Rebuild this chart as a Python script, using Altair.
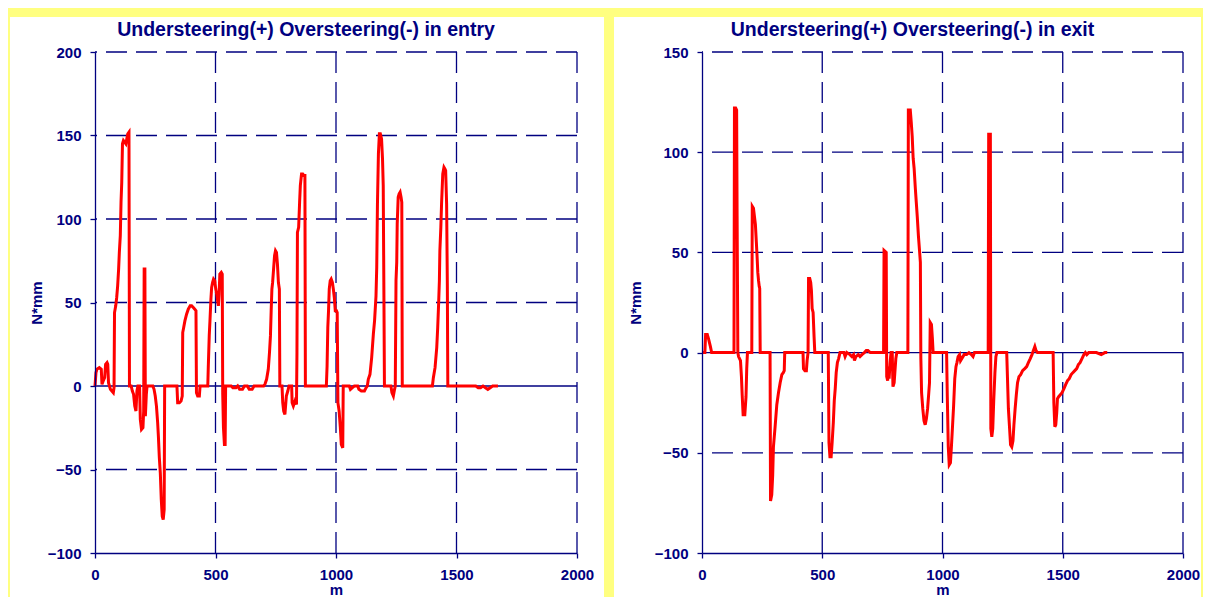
import altair as alt
import pandas as pd

# ---------------- data ----------------
entry_x = [0, 4, 8, 18, 26, 29, 34, 40, 44, 50, 53, 56, 60, 64, 70, 76, 79, 81, 86, 90,
           94, 98, 101, 105, 108, 111, 114, 118, 123, 128, 132, 136, 141, 143, 150, 155, 160, 165, 170, 174,
           178, 185, 188, 193, 199, 202, 204, 207, 209, 213, 216, 240, 245, 250, 255, 260, 263, 267, 271, 275,
           279, 283, 287, 289, 340, 343, 350, 357, 362, 364, 368, 373, 380, 387, 395, 401, 408, 414, 419, 421,
           426, 433, 436, 468, 470, 474, 477, 481, 484, 488, 492, 497, 501, 505, 509, 512, 515, 518, 524, 528,
           530, 533, 537, 540, 542, 565, 572, 585, 592, 600, 612, 620, 632, 640, 652, 660, 700, 705, 712, 719,
           724, 728, 731, 734, 737, 741, 745, 749, 753, 757, 761, 765, 767, 776, 779, 783, 788, 794, 800, 805,
           816, 818, 823, 830, 836, 838, 840, 845, 849, 852, 857, 862, 867, 871, 873, 960, 963, 966, 969, 972,
           976, 980, 985, 989, 993, 997, 1002, 1005, 1008, 1013, 1018, 1022, 1028, 1030, 1055, 1060, 1068, 1076, 1090, 1095,
           1105, 1118, 1125, 1130, 1134, 1141, 1148, 1155, 1160, 1166, 1169, 1172, 1176, 1180, 1184, 1189, 1193, 1196, 1199, 1201,
           1228, 1232, 1238, 1243, 1246, 1249, 1252, 1254, 1258, 1262, 1266, 1270, 1273, 1275, 1400, 1404, 1411, 1418, 1422, 1426,
           1429, 1431, 1435, 1438, 1443, 1448, 1452, 1455, 1459, 1462, 1464, 1580, 1590, 1600, 1610, 1620, 1630, 1640, 1650, 1660,
           1672]
entry_y = [0, 8, 10, 11, 10, 1, 3, 5, 13, 14, 13, 2, 0, -2, -3, -4, -1, 44, 48, 53,
           60, 70, 80, 90, 110, 122, 145, 147, 146, 145, 148, 151, 152, 0, 0, -3, -5, -12, -15, -3,
           0, 0, -20, -26, -25, -15, 70, 70, -18, -5, 0, 0, -2, -6, -12, -22, -30, -43, -52, -68,
           -78, -80, -74, 0, 0, -10, -10, -9, -6, 32, 35, 39, 43, 46, 48, 48, 47, 46, 45, -4,
           -6, -6, 0, 0, 11, 30, 39, 52, 59, 62, 64, 63, 58, 55, 51, 48, 55, 67, 68, 67,
           -5, -25, -35, -35, 0, 0, -1, -1, 0, -2, -2, 0, 0, -2, -2, 0, 0, 1, 4, 10,
           20, 30, 45, 58, 62, 70, 78, 81, 80, 73, 62, 58, 0, 0, -10, -15, -17, -6, -3, 0,
           0, -10, -12, -9, -11, 20, 92, 95, 110, 120, 127, 127, 126, 126, 0, 0, 12, 35, 45, 58,
           63, 64, 62, 58, 53, 45, 45, 44, -10, -15, -25, -35, -37, 0, 0, -2, -1, 0, 0, -2,
           -3, -3, -1, 0, 4, 7, 17, 31, 39, 54, 71, 109, 139, 151, 151, 148, 136, 120, 50, 0,
           0, -4, -6, -2, 0, 63, 74, 97, 113, 115, 116, 113, 110, 0, 0, 5, 11, 23, 35, 50,
           63, 81, 95, 109, 127, 131, 130, 129, 109, 60, 0, 0, -1, -1, 0, -1, -2, -1, 0, 0,
           0]

exit_x = [0, 12, 15, 22, 27, 31, 35, 40, 133, 135, 140, 144, 146, 149, 152, 156, 160, 164, 167, 171,
          178, 183, 186, 189, 207, 209, 214, 218, 222, 226, 229, 232, 235, 238, 240, 242, 283, 285, 290, 294,
          297, 304, 311, 318, 325, 332, 338, 342, 344, 420, 422, 428, 434, 437, 441, 443, 448, 452, 455, 458,
          462, 466, 469, 525, 528, 532, 537, 541, 546, 550, 554, 558, 563, 568, 574, 590, 595, 602, 615, 623,
          630, 634, 640, 650, 657, 665, 675, 683, 690, 700, 755, 757, 766, 768, 772, 775, 778, 782, 786, 791,
          794, 799, 803, 806, 810, 856, 858, 866, 870, 874, 878, 882, 887, 891, 895, 900, 905, 908, 910, 913,
          918, 923, 928, 933, 938, 943, 946, 949, 954, 958, 961, 1017, 1020, 1024, 1028, 1033, 1037, 1042, 1046, 1051,
          1056, 1060, 1065, 1071, 1075, 1080, 1085, 1090, 1100, 1110, 1120, 1127, 1133, 1190, 1192, 1199, 1201, 1205, 1209, 1213,
          1218, 1222, 1226, 1267, 1270, 1274, 1279, 1283, 1288, 1293, 1297, 1302, 1307, 1312, 1318, 1325, 1333, 1342, 1350, 1357,
          1365, 1372, 1378, 1384, 1389, 1395, 1460, 1463, 1467, 1471, 1475, 1478, 1483, 1490, 1497, 1505, 1512, 1520, 1527, 1535,
          1542, 1550, 1558, 1565, 1572, 1580, 1588, 1594, 1600, 1608, 1620, 1640, 1660, 1675, 1685]
exit_y = [0, 0, 9, 9, 7, 5, 3, 0, 0, 122, 122, 121, 68, 0, -2, -3, -4, -12, -21, -31,
          -31, -22, -8, 0, 0, 73, 72, 68, 64, 55, 48, 40, 36, 33, 32, 0, 0, -74, -71, -61,
          -47, -37, -26, -20, -15, -11, -10, -9, 0, 0, -8, -9, -9, -4, 0, 37, 37, 35, 31, 22,
          20, 8, 0, 0, -45, -52, -52, -45, -35, -24, -18, -10, -5, -3, 0, 0, -2, 0, -1, -2,
          -1, -4, -2, -1, -2, -1, 0, 1, 1, 0, 0, 51, 50, -12, -14, -7, -13, -5, 0, 0,
          -17, -15, -8, -3, 0, 0, 121, 121, 115, 108, 97, 92, 82, 75, 68, 58, 50, 45, -3, -20,
          -28, -34, -36, -33, -28, -20, -15, 15, 14, 7, 0, 0, -22, -47, -56, -55, -47, -36, -27, -13,
          -7, -5, -2, -1, -4, -3, -2, -1, -1, 0, -1, -2, 0, 0, 109, 109, -38, -42, -38, -24,
          -10, -2, 0, 0, -12, -28, -38, -46, -47, -44, -36, -28, -21, -15, -12, -11, -9, -8, -7, -5,
          -3, -1, 1, 3, 1, 0, 0, -25, -37, -36, -30, -23, -22, -21, -20, -18, -16, -14, -13, -11,
          -10, -9, -8, -6, -5, -3, -1, 0, -1, 0, 0, 0, -1, 0, 0]

x_ticks = [0, 500, 1000, 1500, 2000]
entry_ticks = [200, 150, 100, 50, 0, -50, -100]
exit_ticks = [150, 100, 50, 0, -50, -100]
titles = ["Understeering(+) Oversteering(-) in entry",
          "Understeering(+) Oversteering(-) in exit"]

# ---------------- styling ----------------
NAVY = "#000080"
RED = "#ff0000"
YELLOW = "#ffff80"
FONT = "Liberation Sans"
PLOT_H = 501


def panel(xs, ys, yticks, title, w, sheet, ytp):
    xscale = alt.Scale(domain=[0, 2000], nice=False, zero=False)
    yscale = alt.Scale(domain=[min(yticks), max(yticks)], nice=False, zero=False)
    x_axis = alt.Axis(
        values=x_ticks, format="d", grid=False, zindex=1,
        domainColor=NAVY, domainWidth=1.3, tickColor=NAVY, tickWidth=1.3, tickSize=5,
        labelFont=FONT, labelFontSize=15, labelFontWeight="bold", labelColor=NAVY,
        labelPadding=9, labelFlush=False, labelOverlap=False,
        title="m", titleFont=FONT, titleFontSize=15, titleFontWeight="bold",
        titleColor=NAVY, titlePadding=0,
    )
    y_axis = alt.Axis(
        values=yticks, format="d", grid=False, zindex=1,
        domainColor=NAVY, domainWidth=1.3, tickColor=NAVY, tickWidth=1.3, tickSize=5,
        labelFont=FONT, labelFontSize=15, labelFontWeight="bold", labelColor=NAVY,
        labelPadding=9, labelFlush=False, labelOverlap=False,
        title="N*mm", titleFont=FONT, titleFontSize=15, titleFontWeight="bold",
        titleColor=NAVY, titlePadding=ytp,
    )

    sheet_layer = alt.Chart(alt.Data(values=[{"k": 0}])).mark_rect(
        color="white", strokeWidth=0
    ).encode(
        x=alt.value(sheet[0]), x2=alt.value(sheet[1]),
        y=alt.value(sheet[2]), y2=alt.value(sheet[3]),
    )

    hgrid = alt.Chart(pd.DataFrame({"v": [t for t in yticks if t not in (0, min(yticks))]})).mark_rule(
        color=NAVY, strokeWidth=1.3, strokeDash=[21, 9]
    ).encode(y=alt.Y("v:Q", scale=yscale, axis=y_axis))

    vgrid = alt.Chart(pd.DataFrame({"m": x_ticks[1:]})).mark_rule(
        color=NAVY, strokeWidth=1.3, strokeDash=[21, 9]
    ).encode(x=alt.X("m:Q", scale=xscale, axis=x_axis))

    zero = alt.Chart(pd.DataFrame({"v": [0]})).mark_rule(
        color=NAVY, strokeWidth=1.3
    ).encode(y=alt.Y("v:Q", scale=yscale, axis=y_axis))

    df = pd.DataFrame({"m": xs, "v": ys, "i": list(range(len(xs)))})
    line = alt.Chart(df).mark_line(color=RED, strokeWidth=3).encode(
        x=alt.X("m:Q", scale=xscale, axis=x_axis),
        y=alt.Y("v:Q", scale=yscale, axis=y_axis),
        order="i:Q",
    )

    return alt.layer(sheet_layer, hgrid, vgrid, zero, line).properties(
        width=w, height=PLOT_H,
        title=alt.TitleParams(
            text=title, anchor="middle", frame="group", dx=-30, offset=-38,
            baseline="alphabetic", font=FONT, fontSize=19.5, fontWeight="bold", color=NAVY,
        ),
    )


left = panel(entry_x, entry_y, entry_ticks, titles[0], 482, (-85, 509, -35, 545), 3)
right = panel(exit_x, exit_y, exit_ticks, titles[1], 481, (-88, 499, -35, 545), 11)

chart = alt.hconcat(left, right, spacing=10, bounds="full").properties(
    background=YELLOW,
    padding={"left": 2, "top": 9, "right": 2, "bottom": 0},
).configure_view(strokeWidth=0)

chart.save("out.html", embed_options={"renderer": "svg", "actions": False})
